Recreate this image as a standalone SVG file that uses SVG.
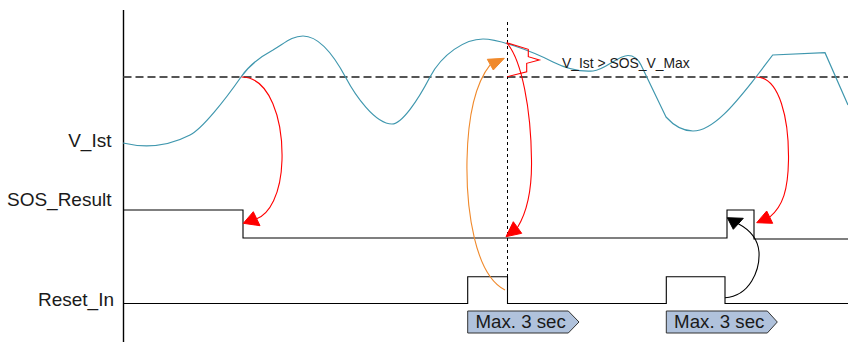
<svg xmlns="http://www.w3.org/2000/svg" width="848" height="342" viewBox="0 0 848 342">
<style>
.lbl{font-family:"Liberation Sans",Arial,sans-serif;font-size:19px;fill:#1a1a1a}
.boxt{font-family:"Liberation Sans",Arial,sans-serif;font-size:18.7px;fill:#1a1a1a}
.small{font-family:"Liberation Sans",Arial,sans-serif;font-size:13.9px;fill:#1a1a1a}
.sig{fill:none;stroke:#000;stroke-width:1.1}
.red{fill:none;stroke:#ff0000;stroke-width:1.1}
.redh{fill:#ff0000;stroke:#ff0000;stroke-width:1}
.box{fill:#b0c2dc;stroke:#333;stroke-width:1}
</style>
<rect width="848" height="342" fill="#fff"/>
<g id="axis">
<line x1="123.5" y1="10" x2="123.5" y2="342" stroke="#000" stroke-width="1.4"/>
<line x1="123.5" y1="77" x2="848" y2="77" stroke="#555" stroke-width="2" stroke-dasharray="8 4"/>
<line x1="507.5" y1="22" x2="507.5" y2="303" stroke="#000" stroke-width="1" stroke-dasharray="3 3"/>
</g>
<g id="labels">
<text class="lbl" x="111.5" y="147" text-anchor="end">V_Ist</text>
<text class="lbl" x="111.5" y="206" text-anchor="end">SOS_Result</text>
<text class="lbl" x="114" y="306" text-anchor="end">Reset_In</text>
</g>
<g id="v_ist">
<path fill="none" stroke="#3f97ae" stroke-width="1.2" d="M123,143 C140,147 165,148 190,135 C202,129 225,100 241,77 C250,64 260,57 273,50 C285,43 292,36 303,36 C315,36 330,48 346,78 C355,95 375,124 392,124 C402,124 418,100 430,77 C442,54 465,39 483,39 C497,39 530,50 553,62 C565,68 580,72 593,71 C605,70 618,55.5 628,55.5 C634,55.5 638,59 641,65 L666,117 C675,127 685,131 693,131 C715,131 740,97 756,77 L772.7,55 L825,52.7 L848,105"/>
</g>
<g id="callout">
<polyline fill="none" stroke="#ff0000" stroke-width="1.1" points="506.7,42.7 528.3,49.3 528.3,56.7 539.3,60 526.7,63.3 526.7,71.7 507.3,76.7"/>
<text class="small" x="562" y="68">V_Ist &gt; SOS_V_Max</text>
</g>
<g id="sos_result">
<polyline class="sig" points="123.5,210 243,210 243,238 727,238 727,210 754,210 754,239 848,239"/>
</g>
<g id="reset_in">
<polyline class="sig" points="123.5,303.5 467.7,303.5 467.7,276.7 507.5,276.7 507.5,303.5 666.3,303.5 666.3,276.7 725,276.7 725,303.5 848,303.5"/>
</g>
<g id="boxes">
<g id="box1">
<polygon class="box" points="467.7,311 568.3,311 579,322 568.3,333 467.7,333"/>
<text class="boxt" x="475.5" y="327.5">Max. 3 sec</text>
</g>
<g id="box2">
<polygon class="box" points="666.3,311 767.3,311 777.3,322 767.3,333 666.3,333"/>
<text class="boxt" x="674.1" y="327.5">Max. 3 sec</text>
</g>
</g>
<g id="connectors">
<path class="red" d="M241.5,77 C270,77 283,120 282,160 C281,195 269,214 256.7,218.7"/>
<polygon class="redh" points="243.3,223.3 253.3,211.7 260,225.7"/>
<path class="red" d="M506.7,42.7 C522,60 531,110 531.5,160 C532,190 527,212 517.5,227.5"/>
<polygon class="redh" points="506,236.7 513.3,221.7 521.7,233.3"/>
<path class="red" d="M756,77 C780,77 789,120 788.5,160 C788,190 783,206 769.7,217.2"/>
<polygon class="redh" points="756.7,222.7 766.7,211 772.7,223.3"/>
<path fill="none" stroke="#f0892b" stroke-width="1.1" d="M505,290 C475,275 466,210 467,160 C468,110 478,80 490.3,64.7"/>
<polygon fill="#f0892b" stroke="#f0892b" stroke-width="1" points="504.3,58.3 487.3,59.3 493.3,70"/>
<path fill="none" stroke="#000" stroke-width="1.1" d="M725,297.7 C750,296 760,270 759,252 C758,240 750,230 738.3,223.8"/>
<polygon fill="#000" stroke="#000" stroke-width="1" points="727.3,217.7 743.3,218.3 733.3,229.3"/>
</g>
</svg>
